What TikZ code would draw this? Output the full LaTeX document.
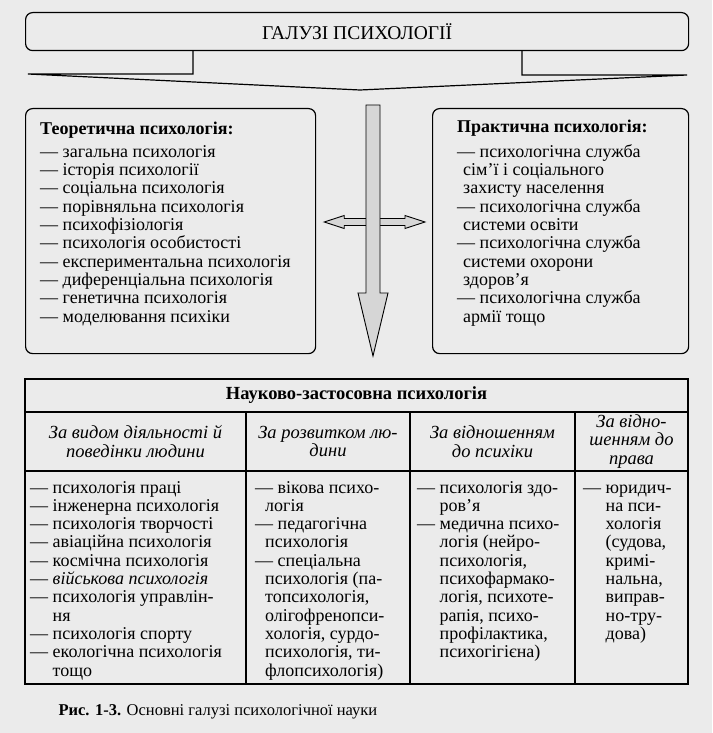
\documentclass[tikz,border=0pt]{standalone}
\usepackage{fontspec}
\setmainfont{Liberation Serif}
\usetikzlibrary{arrows.meta, positioning, calc}

\definecolor{paper}{gray}{0.92}
\definecolor{arrowfill}{gray}{0.84}
\newcommand{\dashgap}{\phantom{—\ }}
\newcommand{\boxfont}{\fontsize{18}{18.3}\selectfont}
\newcommand{\tablefont}{\fontsize{17}{18.7}\selectfont}
\newcommand{\headfont}{\fontsize{18.5}{18.5}\selectfont}

\begin{document}
\begin{tikzpicture}[x=1pt, y=-1pt,
  frame/.style={draw, line width=1.2pt, rounded corners=7pt, fill=paper, anchor=north west, inner sep=0},
  listing/.style={anchor=north west, align=left, inner sep=0, font=\boxfont},
  cell/.style={draw, line width=1.2pt, anchor=north west, inner sep=0, outer sep=0, align=center},
  subhead/.style={cell, minimum height=59, font=\headfont\itshape},
  column/.style={cell, minimum height=213},
  fatarrow/.style={draw, line width=0.9pt, fill=arrowfill, line join=miter},
]

% фон сторінки
\path[use as bounding box, fill=paper] (0,0) rectangle (712,733);

% заголовок
\node[frame, minimum width=663, minimum height=38, font=\fontsize{19.5}{20}\selectfont] (galuzi) at (25,12) {ГАЛУЗІ ПСИХОЛОГІЇ};

% розгалуження під заголовком
\coordinate (vtip) at (360,90);
\draw[line width=1.2pt] ($(galuzi.south west)+(168,0)$) -- (193,74) -- (28,74) -- (vtip)
  -- (687,75) -- (522,75) -- ($(galuzi.south west)+(497,0)$);

% теоретична і практична психологія
\node[frame, minimum width=290, minimum height=245] (theory) at (25,108) {};
\node[listing] (theorylist) at ($(theory.north west)+(15,13)$) {\strut\textbf{Теоретична психологія:}\\[5pt]
  — загальна психологія\\
  — історія психології\\
  — соціальна психологія\\
  — порівняльна психологія\\
  — психофізіологія\\
  — психологія особистості\\
  — експериментальна психологія\\
  — диференціальна психологія\\
  — генетична психологія\\
  — моделювання психіки};

\node[frame, minimum width=256, minimum height=245] (practice) at (432,108) {};
\node[listing] (practicelist) at ($(practice.north west)+(25,11)$) {\strut\textbf{Практична психологія:}\\[6pt]
  — психологічна служба\\
  \hspace*{6pt}сім’ї і соціального\\
  \hspace*{6pt}захисту населення\\
  — психологічна служба\\
  \hspace*{6pt}системи освіти\\
  — психологічна служба\\
  \hspace*{6pt}системи охорони\\
  \hspace*{6pt}здоров’я\\
  — психологічна служба\\
  \hspace*{6pt}армії тощо};

% стрілки
\coordinate (hleft) at ($(theory.north east)+(8,114)$);
\coordinate (hright) at ($(practice.north west)+(-7,114)$);
\draw[fatarrow] (hleft) -- ++(20,-6.5) -- ++(0,3) -- ($(hright)+(-20,-3.5)$) -- ++(0,-3)
  -- (hright) -- ++(-20,6.5) -- ++(0,-3) -- ($(hleft)+(20,3.5)$) -- ++(0,3) -- cycle;

\coordinate (vtop) at ($(vtip)+(13,15)$);
\coordinate (vend) at (373,356);
\draw[fatarrow] ($(vtop)+(-7,0)$) -- ($(vtop)+(7,0)$) -- ($(vend)+(7,-63)$) -- ++(8,0)
  -- (vend) -- ($(vend)+(-15,-63)$) -- ++(8,0) -- cycle;

% науково-застосовна психологія
\node[cell, minimum width=663, minimum height=33, font=\headfont\bfseries] (applied) at (25,379) {Науково-застосовна психологія};
\node[subhead, minimum width=221] (byactivity) at (applied.south west) {За видом діяльності й\\поведінки людини};
\node[subhead, minimum width=164] (bydevelopment) at (byactivity.north east) {За розвитком лю-\\дини};
\node[subhead, minimum width=165] (bypsyche) at (bydevelopment.north east) {За відношенням\\до психіки};
\node[subhead, minimum width=113] (bylaw) at (bypsyche.north east) {За відно-\\шенням до\\права};

\node[column, minimum width=221] (activity) at (byactivity.south west) {};
\node[column, minimum width=164] (development) at (bydevelopment.south west) {};
\node[column, minimum width=165] (psyche) at (bypsyche.south west) {};
\node[column, minimum width=113] (law) at (bylaw.south west) {};

\begin{scope}[every node/.append style={font=\tablefont}]
\node[listing] (activitylist) at ($(activity.north west)+(5,9)$) {\strut— психологія праці\\
  — інженерна психологія\\
  — психологія творчості\\
  — авіаційна психологія\\
  — космічна психологія\\
  — \textit{військова психологія}\\
  — психологія управлін-\\
  \dashgap ня\\
  — психологія спорту\\
  — екологічна психологія\\
  \dashgap тощо};
\node[listing] (developmentlist) at ($(development.north west)+(9,9)$) {\strut— вікова психо-\\
  \hspace*{10pt}логія\\
  — педагогічна\\
  \hspace*{10pt}психологія\\
  — спеціальна\\
  \hspace*{10pt}психологія (па-\\
  \hspace*{10pt}топсихологія,\\
  \hspace*{10pt}олігофренопси-\\
  \hspace*{10pt}хологія, сурдо-\\
  \hspace*{10pt}психологія, ти-\\
  \hspace*{10pt}флопсихологія)};
\node[listing] (psychelist) at ($(psyche.north west)+(7,9)$) {\strut— психологія здо-\\
  \dashgap ров’я\\
  — медична психо-\\
  \dashgap логія (нейро-\\
  \dashgap психологія,\\
  \dashgap психофармако-\\
  \dashgap логія, психоте-\\
  \dashgap рапія, психо-\\
  \dashgap профілактика,\\
  \dashgap психогігієна)};
\node[listing] (lawlist) at ($(law.north west)+(8,9)$) {\strut— юридич-\\
  \dashgap на пси-\\
  \dashgap хологія\\
  \dashgap (судова,\\
  \dashgap кримі-\\
  \dashgap нальна,\\
  \dashgap виправ-\\
  \dashgap но-тру-\\
  \dashgap дова)};
\end{scope}

% підпис
\node[anchor=west, font=\fontsize{16.5}{18}\selectfont] (caption) at (55,712) {\textbf{Рис. 1-3.} Основні галузі психологічної науки};

\end{tikzpicture}
\end{document}
